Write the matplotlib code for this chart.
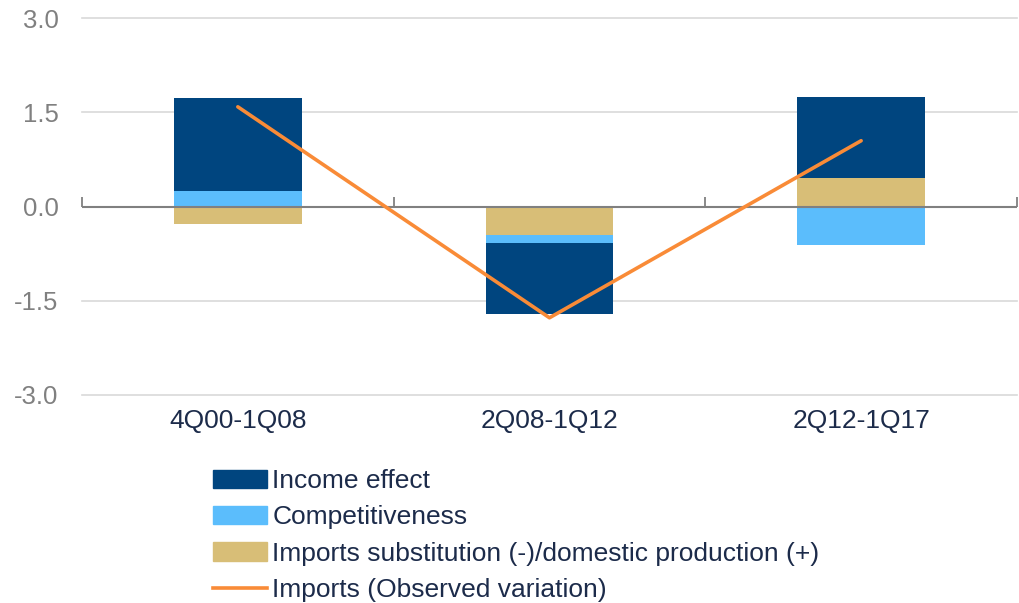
import matplotlib
matplotlib.use("Agg")
import matplotlib.pyplot as plt
from matplotlib.patches import Patch
from matplotlib.lines import Line2D
import numpy as np

categories = ["4Q00-1Q08", "2Q08-1Q12", "2Q12-1Q17"]
income_effect = [1.49, -1.13, 1.29]
competitiveness = [0.245, -0.13, -0.61]
substitution = [-0.275, -0.45, 0.457]
observed = [1.59, -1.77, 1.05]
yticks = [-3.0, -1.5, 0.0, 1.5, 3.0]

c_income = "#00457f"
c_comp = "#5bbdfc"
c_sub = "#d8be77"
c_line = "#f98b37"
c_text = "#1c2b4a"
c_gray = "#808080"

plt.rcParams['font.family'] = ['Liberation Sans', 'DejaVu Sans']

fig = plt.figure(figsize=(10.19, 6.03), dpi=100)
ax = fig.add_axes([82/1019, 1-395/603, 1-82/1019-0.002, (395-18.3)/603])

x = np.arange(len(categories))
pos_base = np.zeros(len(categories))
neg_base = np.zeros(len(categories))
width = 0.41
# stacking order: substitution, competitiveness, income
for vals, col in [(substitution, c_sub), (competitiveness, c_comp), (income_effect, c_income)]:
    v = np.array(vals)
    bottoms = np.where(v >= 0, pos_base, neg_base)
    ax.bar(x, v, width=width, bottom=bottoms, color=col, zorder=3, linewidth=0)
    pos_base = pos_base + np.where(v >= 0, v, 0)
    neg_base = neg_base + np.where(v < 0, v, 0)

ax.plot(x, observed, color=c_line, lw=2.6, zorder=5, solid_capstyle='round')

ax.set_xlim(-0.5, 2.5)
ax.set_ylim(-3.0, 3.0)
ax.set_yticks(yticks)
ax.set_yticklabels([f"{t:.1f}" for t in yticks], fontsize=18.5, color=c_gray)
ax.set_xticks(x)
ax.set_xticklabels(categories, fontsize=19, color=c_text)
ax.tick_params(axis='y', length=0, pad=17)
ax.tick_params(axis='x', length=0, pad=10)
for s in ax.spines.values():
    s.set_visible(False)
for t in yticks:
    if t != 0:
        ax.axhline(t, color="#d9d9d9", lw=1.2, zorder=1, clip_on=False)

ax.axhline(0, color=c_gray, lw=1.5, zorder=4)
sec = ax.secondary_xaxis(0.5)
sec.set_xticks([-0.5, 0.5, 1.5, 2.5])
sec.set_xticklabels([])
sec.tick_params(axis='x', direction='out', length=7, width=1.3, color=c_gray)
for s in sec.spines.values():
    s.set_visible(False)

handles = [Patch(color=c_income), Patch(color=c_comp), Patch(color=c_sub),
           Line2D([0], [0], color=c_line, lw=2.6)]
labels = ["Income effect", "Competitiveness",
          "Imports substitution (-)/domestic production (+)",
          "Imports (Observed variation)"]
leg = fig.legend(handles, labels, loc='upper left', bbox_to_anchor=(213/1019, 1-469/603),
                 frameon=False, fontsize=19, handlelength=2.05, handleheight=0.7,
                 handletextpad=0.2, labelspacing=0.47, borderpad=0, borderaxespad=0)
for t in leg.get_texts():
    t.set_color(c_text)

fig.savefig("out.png", dpi=100)
